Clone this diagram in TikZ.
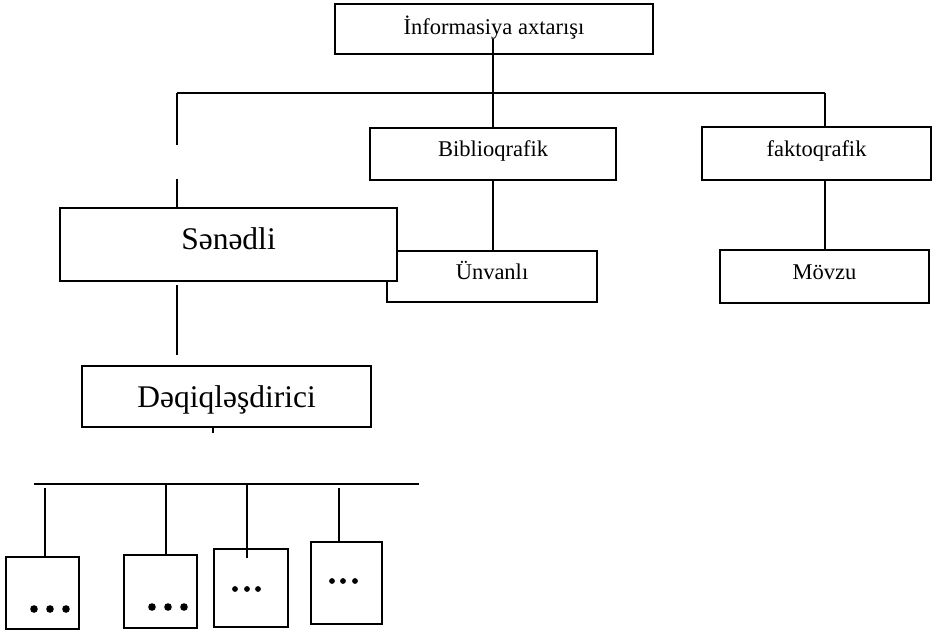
\documentclass[tikz,border=0pt]{standalone}
\usepackage{fontspec}
\setmainfont{Liberation Serif}
\begin{document}
\begin{tikzpicture}[x=1pt,y=-1pt,
  line width=2pt,
  box/.style={draw,fill=white,inner sep=0pt,align=center,
    font=\fontsize{22.5}{26}\selectfont,text height=15.4pt},
  bigbox/.style={draw,fill=white,inner sep=0pt,align=center,
    font=\fontsize{31.5}{36}\selectfont,text height=22pt},
  leaf/.style={draw,fill=white,inner sep=0pt},
  dot/.style={fill=black,draw=none}]
\useasboundingbox (0,0) rectangle (933,632);

% upper level
\node[box,minimum width=318pt,minimum height=50pt,text depth=4.8pt] (top) at (494,29) {İnformasiya axtarışı};
\node[box,minimum width=246pt,minimum height=52pt,text depth=10pt] (bib) at (493,154) {Biblioqrafik};
\node[box,minimum width=229pt,minimum height=53pt,text depth=9pt] (fakt) at (816.5,153.5) {faktoqrafik};
\node[box,minimum width=210pt,minimum height=51pt,text depth=10.4pt] (unv) at (492,276.5) {Ünvanlı};
\node[box,minimum width=209pt,minimum height=53pt,text depth=9.8pt] (movzu) at (824.5,276.5) {Mövzu};
% document branch (drawn over the neighbouring box)
\node[bigbox,minimum width=337pt,minimum height=73pt,text depth=13pt] (sen) at (228.5,244.5) {Sənədli};
\node[bigbox,minimum width=289pt,minimum height=61pt,text depth=0.4pt] (deq) at (226.5,396.5) {Dəqiqləşdirici};

% bottom leaves
\node[leaf,minimum width=73pt,minimum height=72pt] (c1) at (42.5,593) {};
\node[leaf,minimum width=73pt,minimum height=73pt] (c2) at (160.5,591.5) {};
\node[leaf,minimum width=74pt,minimum height=78pt] (c3) at (251,588) {};
\node[leaf,minimum width=71pt,minimum height=82pt] (c4) at (346.5,583) {};

% connectors of the upper level
\coordinate (stub) at (493,39);
\coordinate (busL) at (177,93);
\coordinate (busR) at (825,93);
\coordinate (gapA) at (177,145);
\coordinate (gapB) at (177,179);
\draw (stub) -- (stub |- bib.north);
\draw (busL) -- (busR);
\draw (busR) -- (busR |- fakt.north);
\draw (busL) -- (gapA);
\draw (gapB) -- (gapB |- sen.north);
\draw (bib.south) -- (bib.south |- unv.north);
\draw (busR |- fakt.south) -- (busR |- movzu.north);

% connectors of the lower level
\coordinate (senA) at (177,285);
\coordinate (senB) at (177,355);
\coordinate (tick) at (213,433);
\coordinate (bus2L) at (34,484);
\coordinate (bus2R) at (419,484);
\draw (senA) -- (senB);
\draw (tick |- deq.south) -- (tick);
\draw (bus2L) -- (bus2R);
\coordinate (k1) at (45,488);
\coordinate (k2) at (166,484);
\coordinate (k3) at (247,484);
\coordinate (k4) at (339,488);
\draw (k1) -- (k1 |- c1.north);
\draw (k2) -- (k2 |- c2.north);
\draw (k3) -- (247,558);
\draw (k4) -- (k4 |- c4.north);

% ellipsis marks in the leaves
\foreach \x in {34,50,66} \fill[dot] (\x,609) circle (3.8pt);
\foreach \x in {152,168,184} \fill[dot] (\x,607) circle (3.8pt);
\foreach \x in {235,247,258} \fill[dot] (\x,589) circle (2.9pt);
\foreach \x in {332,343,355} \fill[dot] (\x,581) circle (2.9pt);
\end{tikzpicture}
\end{document}
